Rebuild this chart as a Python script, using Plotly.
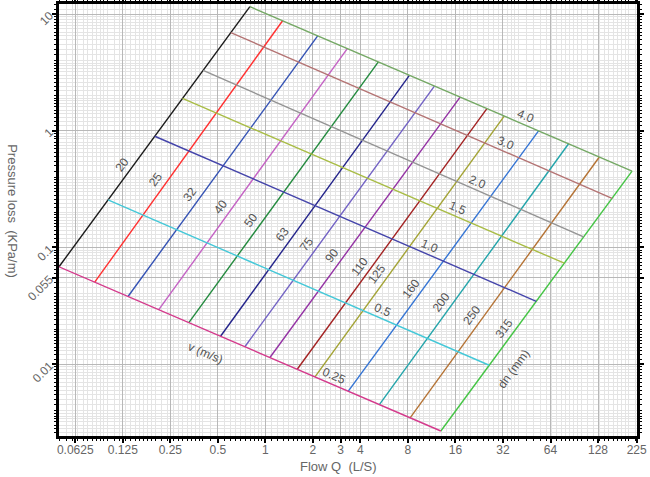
import numpy as np
import plotly.graph_objects as go

# ---- data ----
# pipe nominal diameters (mm) and the two ends of each dn line: (flow L/s, pressure loss kPa/m)
dn_sizes = [20, 25, 32, 40, 50, 63, 75, 90, 110, 125, 160, 200, 250, 315]
dn_q_low = [0.0493, 0.0830, 0.1349, 0.2113, 0.3275, 0.5202, 0.7417, 1.069, 1.592, 2.062, 3.353, 5.274, 8.257, 12.93]
dn_j_low = [0.06835, 0.05046, 0.03804, 0.02931, 0.02272, 0.01736, 0.01412, 0.01142, 0.009055, 0.007791, 0.005871, 0.004512, 0.003476, 0.002678]
dn_q_high = [0.798, 1.286, 2.145, 3.304, 5.197, 8.173, 11.77, 17.13, 25.31, 32.58, 53.77, 83.32, 130.5, 210.3]
dn_j_high = [11.55, 8.750, 6.500, 5.054, 3.885, 2.985, 2.414, 1.941, 1.547, 1.336, 0.998, 0.7736, 0.5958, 0.4515]

# velocity lines (m/s) and their two ends
v_labels = ["4.0", "3.0", "2.0", "1.5", "1.0", "0.5", "0.25"]
v_q_start = [0.798, 0.6045, 0.4035, 0.2987, 0.1993, 0.1008, 0.0493]
v_j_start = [11.55, 6.928, 3.289, 1.890, 0.8969, 0.2554, 0.06835]
v_q_end = [210.3, 157.1, 103.7, 78.27, 51.99, 26.17, 12.93]
v_j_end = [0.4515, 0.2639, 0.1231, 0.07333, 0.03458, 0.009795, 0.002678]

x_tick_vals = [0.0625, 0.125, 0.25, 0.5, 1, 2, 3, 4, 8, 16, 32, 64, 128, 225]
x_tick_text = ["0.0625", "0.125", "0.25", "0.5", "1", "2", "3", "4", "8", "16", "32", "64", "128", "225"]
y_tick_vals = [0.01, 0.055, 0.1, 1, 10]
y_tick_text = ["0.01", "0.055", "0.1", "1", "10"]

# ---- styling ----
dn_colors = ["#1a1a1a", "#ff3030", "#3452b4", "#c462c4", "#238a3e", "#23238a", "#7262c4",
             "#9432a4", "#a32222", "#a3a334", "#3474d4", "#22a4aa", "#b47234", "#44c444"]
v_colors = ["#74a864", "#b47474", "#949494", "#a8bc44", "#4444aa", "#44c8d8", "#d43a8c"]
label_font = dict(family="Liberation Sans, Arial, sans-serif", size=12, color="#555555")

fig = go.Figure()

for i, d in enumerate(dn_sizes):
    fig.add_trace(go.Scatter(x=[dn_q_low[i], dn_q_high[i]], y=[dn_j_low[i], dn_j_high[i]],
                             mode="lines", line=dict(color=dn_colors[i], width=1.4),
                             hoverinfo="skip", showlegend=False))
for i, v in enumerate(v_labels):
    fig.add_trace(go.Scatter(x=[v_q_start[i], v_q_end[i]], y=[v_j_start[i], v_j_end[i]],
                             mode="lines", line=dict(color=v_colors[i], width=1.4),
                             hoverinfo="skip", showlegend=False))

annotations = []
# dn labels along their lines
for i, d in enumerate(dn_sizes):
    lx0, lx1 = np.log10(dn_q_low[i]), np.log10(dn_q_high[i])
    ly0, ly1 = np.log10(dn_j_low[i]), np.log10(dn_j_high[i])
    t = 0.37
    annotations.append(dict(x=lx0 + t * (lx1 - lx0), y=ly0 + t * (ly1 - ly0), xref="x", yref="y",
                            text=str(d), showarrow=False, textangle=-53.7,
                            xshift=-8, yshift=6, font=label_font))
# dn (mm) caption next to the last dn line
lx0, lx1 = np.log10(dn_q_low[-1]), np.log10(dn_q_high[-1])
ly0, ly1 = np.log10(dn_j_low[-1]), np.log10(dn_j_high[-1])
annotations.append(dict(x=lx0 + 0.29 * (lx1 - lx0), y=ly0 + 0.29 * (ly1 - ly0), xref="x", yref="y",
                        text="dn (mm)", showarrow=False, textangle=-53.7,
                        xshift=17, yshift=-13, font=label_font))
# velocity labels
for i, v in enumerate(v_labels):
    lx0, lx1 = np.log10(v_q_start[i]), np.log10(v_q_end[i])
    ly0, ly1 = np.log10(v_j_start[i]), np.log10(v_j_end[i])
    t = 0.713
    annotations.append(dict(x=lx0 + t * (lx1 - lx0), y=ly0 + t * (ly1 - ly0), xref="x", yref="y",
                            text=v, showarrow=False, textangle=23.3,
                            xshift=3, yshift=7.5, font=label_font))
lx0, lx1 = np.log10(v_q_start[-1]), np.log10(v_q_end[-1])
ly0, ly1 = np.log10(v_j_start[-1]), np.log10(v_j_end[-1])
annotations.append(dict(x=lx0 + 0.405 * (lx1 - lx0), y=ly0 + 0.405 * (ly1 - ly0), xref="x", yref="y",
                        text="v (m/s)", showarrow=False, textangle=23.3,
                        xshift=-8.6, yshift=-20, font=label_font))

# axis titles
title_font = dict(family="Liberation Sans, Arial, sans-serif", size=13, color="#666666")
annotations.append(dict(x=0.483, y=-0.07, xref="paper", yref="paper", text="Flow Q  (L/S)",
                        showarrow=False, font=title_font, yanchor="middle"))
annotations.append(dict(x=-0.081, y=0.52, xref="paper", yref="paper", text="Pressure loss  (KPa/m)",
                        showarrow=False, font=title_font, textangle=90, xanchor="center"))


def minor_vals(lo_exp, hi_exp):
    mants = list(np.arange(1.0, 2.0, 0.1)) + list(np.arange(2.0, 4.0, 0.2)) + list(np.arange(4.0, 10.0, 0.5))
    out = []
    for e in range(lo_exp, hi_exp + 1):
        for m in mants:
            out.append(round(m, 2) * 10.0 ** e)
    return out


axis_common = dict(type="log", showline=True, linecolor="black", linewidth=2.5, mirror="allticks",
                   ticks="outside", ticklen=4, tickwidth=1.5, tickcolor="black", automargin=False,
                   showgrid=True, gridcolor="#b8b8b8", gridwidth=1, zeroline=False,
                   tickfont=dict(family="Liberation Sans, Arial, sans-serif", size=12, color="#666666"))

fig.update_layout(
    width=650, height=477,
    margin=dict(l=59, r=13, t=4, b=41, autoexpand=False),
    plot_bgcolor="white", paper_bgcolor="white",
    showlegend=False,
    annotations=annotations,
    xaxis=dict(range=[np.log10(0.0493), np.log10(226)], tickmode="array",
               tickvals=x_tick_vals, ticktext=x_tick_text, ticklabelstandoff=-3,
               minor=dict(tickvals=minor_vals(-2, 2), ticklen=2, tickcolor="black", tickwidth=1,
                          showgrid=True, gridcolor="#e4e4e4", gridwidth=1),
               **axis_common),
    yaxis=dict(range=[np.log10(0.002427), np.log10(12.18)], tickmode="array",
               tickvals=y_tick_vals, ticktext=y_tick_text, tickangle=-45,
               minor=dict(tickvals=minor_vals(-3, 1), ticklen=2, tickcolor="black", tickwidth=1,
                          showgrid=True, gridcolor="#e4e4e4", gridwidth=1),
               **axis_common),
)

fig.write_html("out.html", config={"displayModeBar": False},
               post_script="document.body.style.margin='0px';document.body.style.overflow='hidden';")
